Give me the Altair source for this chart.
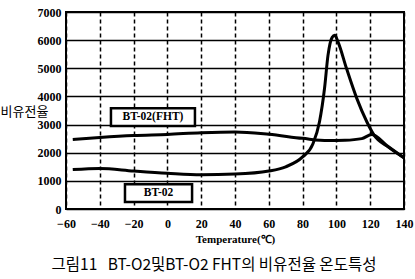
import altair as alt
import pandas as pd

# BT-02(FHT) curve
fht_t = [-56, -40, -20, 0, 20, 40, 60, 80, 95, 105, 115, 121, 130, 140]
fht_v = [2470, 2540, 2610, 2650, 2710, 2740, 2655, 2510, 2430, 2440, 2500, 2650, 2250, 1820]

# BT-02 curve
bt_t = [-56, -40, -20, 0, 20, 40, 60, 70, 80, 86, 90, 93, 95, 97.5, 99, 101, 106, 112, 118, 122, 131, 140]
bt_v = [1400, 1440, 1350, 1270, 1215, 1240, 1350, 1500, 1850, 2300, 3100, 4300, 5450, 6100, 6170, 5930, 4990, 3940, 3100, 2650, 2190, 1820]

# legend boxes (data coordinates)
box_labels = ["BT-02(FHT)", "BT-02"]
box_x0 = [-33.4, -25.1]
box_x1 = [16.3, 14.6]
box_y0 = [2950, 245]
box_y1 = [3580, 880]

x_ticks = [-60, -40, -20, 0, 20, 40, 60, 80, 100, 120, 140]
y_ticks = [0, 1000, 2000, 3000, 4000, 5000, 6000, 7000]

lines = pd.DataFrame(
    {"t": fht_t + bt_t,
     "v": fht_v + bt_v,
     "s": ["BT-02(FHT)"] * len(fht_t) + ["BT-02"] * len(bt_t)}
)
boxes = pd.DataFrame({
    "label": box_labels,
    "t": box_x0, "t2": box_x1, "v": box_y0, "v2": box_y1,
})
boxes["tc"] = (boxes["t"] + boxes["t2"]) / 2
boxes["vc"] = (boxes["v"] + boxes["v2"]) / 2

xs = alt.Scale(domain=[-60, 140], nice=False, zero=False)
ys = alt.Scale(domain=[0, 7000], nice=False)

serif = "Liberation Serif"

x_axis = alt.Axis(
    values=x_ticks, title="Temperature(℃)", grid=True, format="d",
    gridDash=[4, 3], gridColor="black", gridWidth=1.5, gridOpacity=1,
    ticks=False, domain=False,
    labelFont=serif, labelFontWeight="bold", labelFontSize=12, labelColor="black",
    labelPadding=9, labelFlush=False,
    titleFont=serif, titleFontWeight="bold", titleFontSize=11, titleColor="black",
    titlePadding=4,
)
y_axis = alt.Axis(
    values=y_ticks, title="비유전율", grid=True, format="d",
    gridColor="black", gridWidth=1.5, gridOpacity=1,
    ticks=False, domain=False,
    labelFont=serif, labelFontWeight="bold", labelFontSize=12, labelColor="black",
    labelPadding=5,
    titleFont="Noto Sans CJK KR", titleFontWeight="normal", titleFontSize=13,
    titleColor="black", titleAngle=0, titleAlign="left", titleBaseline="middle",
    titleX=-66, titleY=99.5,
)

line_layer = alt.Chart(lines).mark_line(
    color="black", strokeWidth=3, interpolate="monotone"
).encode(
    x=alt.X("t:Q", scale=xs, axis=x_axis),
    y=alt.Y("v:Q", scale=ys, axis=y_axis),
    detail="s:N",
)

rect_layer = alt.Chart(boxes).mark_rect(
    fill="white", stroke="black", strokeWidth=2.5
).encode(
    x=alt.X("t:Q", scale=xs, axis=x_axis),
    x2="t2:Q",
    y=alt.Y("v:Q", scale=ys, axis=y_axis),
    y2="v2:Q",
)

text_layer = alt.Chart(boxes).mark_text(
    font=serif, fontWeight="bold", fontSize=11.5, color="black",
    align="center", baseline="middle"
).encode(
    x=alt.X("tc:Q", scale=xs, axis=x_axis),
    y=alt.Y("vc:Q", scale=ys, axis=y_axis),
    text="label:N",
)

chart = alt.layer(line_layer, rect_layer, text_layer).properties(
    width=338, height=197,
    background="white",
    autosize=alt.AutoSizeParams(type="none"),
    padding={"left": 66, "top": 12, "right": 11, "bottom": 70},
    title=alt.TitleParams(
        "그림11\u00a0\u00a0\u00a0BT-O2및BT-O2 FHT의 비유전율 온도특성",
        orient="bottom", anchor="middle", dx=-21, offset=14,
        font="Noto Sans CJK KR", fontSize=15.5, fontWeight="normal", color="black",
    ),
).configure_view(stroke="black", strokeWidth=2)

chart.save("out.html", embed_options={"renderer": "svg", "actions": False})
